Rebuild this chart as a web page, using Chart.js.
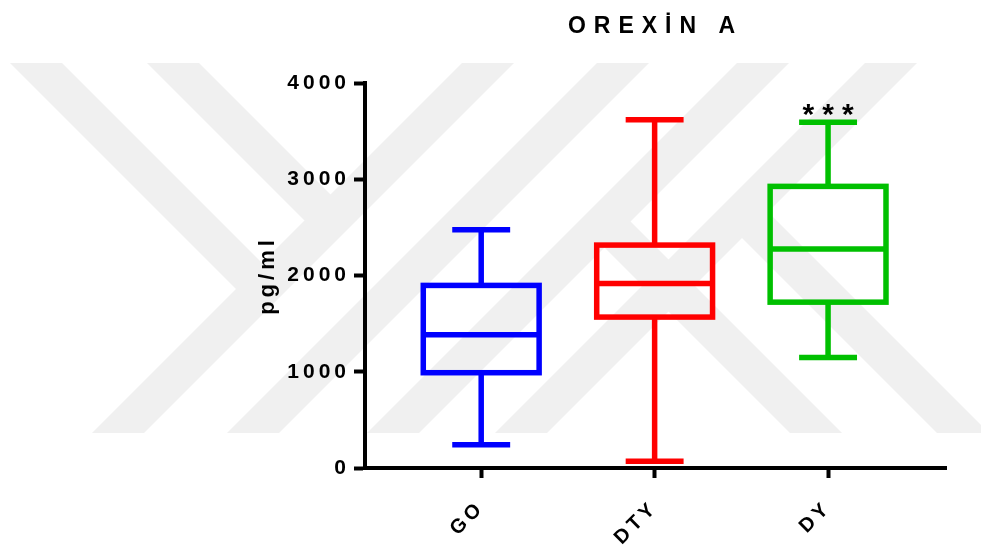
<!DOCTYPE html>
<html>
<head>
<meta charset="utf-8">
<script src="https://cdn.jsdelivr.net/npm/chart.js@4.4.0/dist/chart.umd.min.js"></script>
<style>
  html, body { margin: 0; padding: 0; background: #fff; }
  #wrap { width: 981px; height: 550px; }
</style>
</head>
<body>
<div id="wrap"><canvas id="orexinChart" width="981" height="550"></canvas></div>
<script>
// values (pg/ml)
const categories = ["GO", "DTY", "DY"];
const mins = [242, 69, 1149];
const q1s = [990, 1568, 1723];
const medians = [1385, 1918, 2275];
const q3s = [1897, 2316, 2926];
const maxs = [2476, 3619, 3591];
const yTicks = [0, 1000, 2000, 3000, 4000];
const colors = ["#0000ff", "#ff0000", "#00c000"];
const marks = ["", "", "***"];

const FONT = "'Liberation Sans', Arial, sans-serif";
const BOX_W = 0.668;   // in category units
const CAP_W = 0.334;
const LINE_W = 5.5;

// light grey background logo (not data)
const bandShapes = [
  [[92, 433], [144, 433], [514, 63], [462, 63]],
  [[227, 433], [279, 433], [649, 63], [597, 63]],
  [[367, 433], [419, 433], [789, 63], [737, 63]],
  [[495, 433], [547, 433], [917, 63], [865, 63]],
  [[10, 63], [62, 63], [288, 289], [236, 289]],
  [[147, 63], [199, 63], [356.5, 220.5], [304.5, 220.5]],
  [[790, 433], [842, 433], [604.5, 195.5], [604.5, 247.5]],
  [[937, 433], [989, 433], [742, 186], [742, 238]]
];

const watermark = {
  id: "watermark",
  beforeDraw(chart) {
    const ctx = chart.ctx;
    ctx.save();
    ctx.fillStyle = "#f0f0f0";
    bandShapes.forEach(poly => {
      ctx.beginPath();
      poly.forEach(([px, py], k) => (k ? ctx.lineTo(px, py) : ctx.moveTo(px, py)));
      ctx.closePath();
      ctx.fill();
    });
    ctx.restore();
  }
};

const spacing = {
  id: "spacing",
  beforeUpdate(chart) { chart.ctx.letterSpacing = "4px"; },
  beforeLayout(chart) { chart.ctx.letterSpacing = "4px"; },
  beforeDraw(chart) { chart.ctx.letterSpacing = "4px"; }
};

const boxes = {
  id: "boxes",
  afterDatasetsDraw(chart) {
    const { ctx, scales: { x, y } } = chart;
    ctx.save();
    ctx.lineWidth = LINE_W;
    ctx.lineCap = "butt";
    ctx.lineJoin = "miter";
    categories.forEach((c, i) => {
      const xc = x.getPixelForValue(i);
      const half = x.getPixelForValue(i + BOX_W / 2) - xc;
      const cap = x.getPixelForValue(i + CAP_W / 2) - xc;
      const yMin = y.getPixelForValue(mins[i]);
      const yQ1 = y.getPixelForValue(q1s[i]);
      const yMed = y.getPixelForValue(medians[i]);
      const yQ3 = y.getPixelForValue(q3s[i]);
      const yMax = y.getPixelForValue(maxs[i]);
      ctx.strokeStyle = colors[i];
      ctx.strokeRect(xc - half, yQ3, half * 2, yQ1 - yQ3);
      ctx.beginPath();
      ctx.moveTo(xc - half, yMed); ctx.lineTo(xc + half, yMed);
      ctx.moveTo(xc, yQ3); ctx.lineTo(xc, yMax);
      ctx.moveTo(xc, yQ1); ctx.lineTo(xc, yMin);
      ctx.moveTo(xc - cap, yMax); ctx.lineTo(xc + cap, yMax);
      ctx.moveTo(xc - cap, yMin); ctx.lineTo(xc + cap, yMin);
      ctx.stroke();
      if (marks[i]) {
        ctx.letterSpacing = "8px";
        ctx.fillStyle = "#000";
        ctx.font = "bold 30px " + FONT;
        ctx.textAlign = "center";
        ctx.textBaseline = "alphabetic";
        ctx.fillText(marks[i], xc + 4, yMax + 2);
      }
    });
    ctx.restore();
  }
};

const heading = {
  id: "heading",
  afterDraw(chart) {
    const { ctx, chartArea } = chart;
    ctx.save();
    ctx.letterSpacing = "8px";
    ctx.fillStyle = "#000";
    ctx.font = "bold 23px " + FONT;
    ctx.textAlign = "center";
    ctx.textBaseline = "alphabetic";
    ctx.fillText("OREXİN A", (chartArea.left + chartArea.right) / 2, 33);
    ctx.restore();
  }
};

const tickFont = { family: FONT, size: 21, weight: "bold" };

new Chart(document.getElementById("orexinChart"), {
  type: "scatter",
  data: {
    datasets: [{
      data: categories.map((c, i) => ({ x: i, y: medians[i] })),
      pointRadius: 0,
      showLine: false
    }]
  },
  options: {
    responsive: false,
    animation: false,
    devicePixelRatio: 1,
    layout: { padding: { top: 83, right: 35, left: 255, bottom: 0 } },
    plugins: { legend: { display: false }, tooltip: { enabled: false }, title: { display: false } },
    scales: {
      x: {
        type: "linear",
        min: -0.67,
        max: 2.68,
        afterBuildTicks: s => { s.ticks = categories.map((c, i) => ({ value: i })); },
        afterFit: s => { s.height = 82; },
        grid: { drawOnChartArea: false, drawTicks: true, tickLength: 10, tickWidth: 4, tickColor: "#000" },
        border: { display: true, color: "#000", width: 4 },
        ticks: {
          callback: v => categories[v],
          minRotation: 45,
          maxRotation: 45,
          autoSkip: false,
          padding: 18,
          color: "#000",
          font: { family: FONT, size: 20, weight: "bold" }
        }
      },
      y: {
        min: 0,
        max: 4000,
        afterBuildTicks: s => { s.ticks = yTicks.map(v => ({ value: v })); },
        afterFit: s => { s.width = 110; },
        grid: { drawOnChartArea: false, drawTicks: true, tickLength: 11, tickWidth: 4, tickColor: "#000" },
        border: { display: true, color: "#000", width: 4 },
        ticks: { padding: 4, color: "#000", font: tickFont, callback: v => String(v) },
        title: {
          display: true,
          text: "pg/ml",
          color: "#000",
          padding: 0,
          font: { family: FONT, size: 22, weight: "bold" }
        }
      }
    }
  },
  plugins: [watermark, spacing, boxes, heading]
});
</script>
</body>
</html>
